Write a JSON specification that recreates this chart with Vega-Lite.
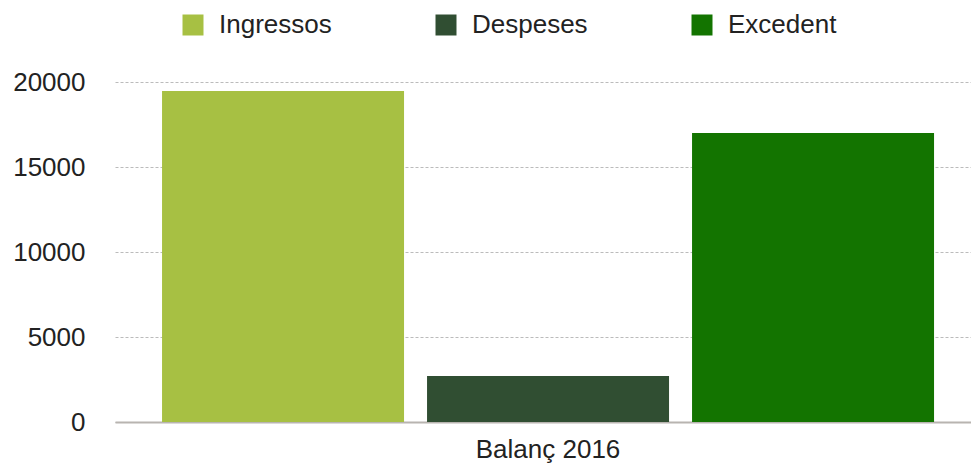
{
  "$schema": "https://vega.github.io/schema/vega-lite/v6.json",
  "width": 856,
  "height": 340,
  "autosize": {"type": "none"},
  "padding": {"left": 115, "top": 82, "right": 0, "bottom": 41},
  "config": {"view": {"stroke": null}, "font": "Liberation Sans"},
  "data": {
    "values": [
      {"cat": "Balanç 2016", "serie": "Ingressos", "valor": 19470},
      {"cat": "Balanç 2016", "serie": "Despeses", "valor": 2710},
      {"cat": "Balanç 2016", "serie": "Excedent", "valor": 17000}
    ]
  },
  "mark": {"type": "bar"},
  "encoding": {
    "x": {
      "field": "cat",
      "type": "nominal",
      "scale": {"paddingInner": 0, "paddingOuter": 0.0544, "align": 0.56},
      "axis": {
        "title": null,
        "labelAngle": 0,
        "labelFontSize": 26,
        "labelColor": "#222222",
        "ticks": false,
        "domainColor": "#b8b4b0",
        "domainWidth": 2,
        "labelPadding": 14
      }
    },
    "xOffset": {
      "field": "serie",
      "type": "nominal",
      "sort": ["Ingressos", "Despeses", "Excedent"],
      "scale": {"paddingInner": 0.0868, "paddingOuter": 0}
    },
    "y": {
      "field": "valor",
      "type": "quantitative",
      "scale": {"domain": [0, 20000]},
      "axis": {
        "title": null,
        "values": [0, 5000, 10000, 15000, 20000],
        "format": "d",
        "labelFontSize": 26,
        "labelColor": "#222222",
        "labelPadding": 30,
        "ticks": false,
        "domain": false,
        "gridDash": [3, 2],
        "gridColor": "#bbbbbb"
      }
    },
    "color": {
      "field": "serie",
      "type": "nominal",
      "sort": ["Ingressos", "Despeses", "Excedent"],
      "scale": {
        "domain": ["Ingressos", "Despeses", "Excedent"],
        "range": ["#a7c043", "#304e32", "#137400"]
      },
      "legend": {
        "orient": "none",
        "direction": "horizontal",
        "legendX": 65,
        "legendY": -70,
        "title": null,
        "symbolType": "square",
        "symbolSize": 441,
        "symbolStrokeWidth": 0,
        "labelFontSize": 26,
        "labelColor": "#222222",
        "labelOffset": 13,
        "columnPadding": 101,
        "padding": 0
      }
    }
  }
}
